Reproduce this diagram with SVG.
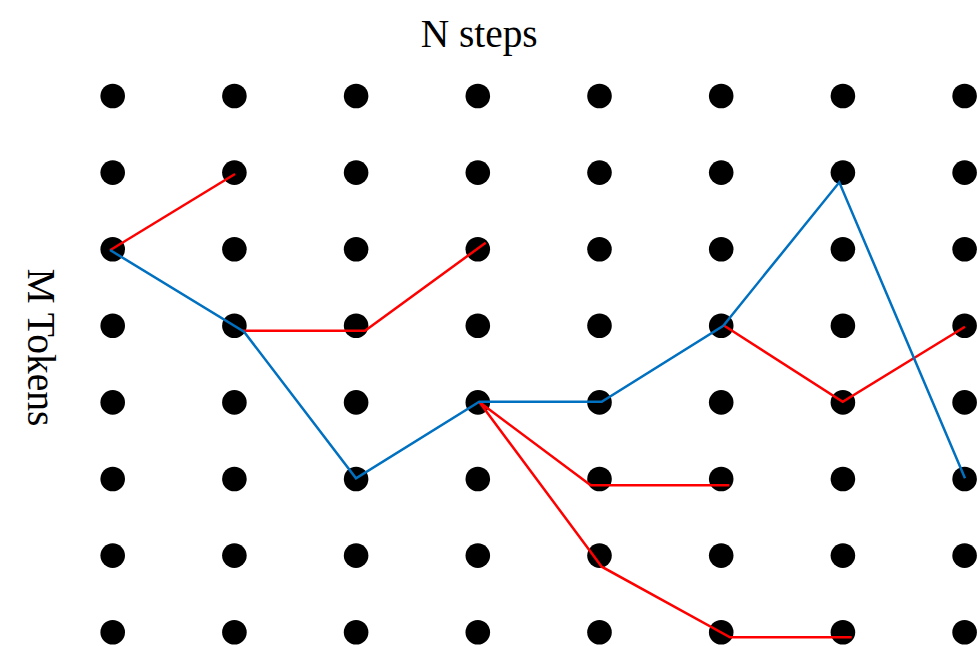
<svg xmlns="http://www.w3.org/2000/svg" width="978" height="646" viewBox="0 0 978 646">
<style>
.dot{fill:#000}
.lbl{font-family:"Liberation Serif","Times New Roman",serif;fill:#000}
.red{fill:none;stroke:#ff0000;stroke-width:2.5;stroke-linejoin:miter}
.blue{fill:none;stroke:#0070c0;stroke-width:2.5;stroke-linejoin:miter}
</style>
<rect width="978" height="646" fill="#fff"/>
<defs><circle id="d" r="12.3" class="dot"/></defs>
<g id="grid">
<g id="row1"><use href="#d" x="112.7" y="96"/><use href="#d" x="234.4" y="96"/><use href="#d" x="356.1" y="96"/><use href="#d" x="477.8" y="96"/><use href="#d" x="599.5" y="96"/><use href="#d" x="721.2" y="96"/><use href="#d" x="842.9" y="96"/><use href="#d" x="964.6" y="96"/></g>
<g id="row2"><use href="#d" x="112.7" y="172.6"/><use href="#d" x="234.4" y="172.6"/><use href="#d" x="356.1" y="172.6"/><use href="#d" x="477.8" y="172.6"/><use href="#d" x="599.5" y="172.6"/><use href="#d" x="721.2" y="172.6"/><use href="#d" x="842.9" y="172.6"/><use href="#d" x="964.6" y="172.6"/></g>
<g id="row3"><use href="#d" x="112.7" y="249.2"/><use href="#d" x="234.4" y="249.2"/><use href="#d" x="356.1" y="249.2"/><use href="#d" x="477.8" y="249.2"/><use href="#d" x="599.5" y="249.2"/><use href="#d" x="721.2" y="249.2"/><use href="#d" x="842.9" y="249.2"/><use href="#d" x="964.6" y="249.2"/></g>
<g id="row4"><use href="#d" x="112.7" y="325.8"/><use href="#d" x="234.4" y="325.8"/><use href="#d" x="356.1" y="325.8"/><use href="#d" x="477.8" y="325.8"/><use href="#d" x="599.5" y="325.8"/><use href="#d" x="721.2" y="325.8"/><use href="#d" x="842.9" y="325.8"/><use href="#d" x="964.6" y="325.8"/></g>
<g id="row5"><use href="#d" x="112.7" y="402.4"/><use href="#d" x="234.4" y="402.4"/><use href="#d" x="356.1" y="402.4"/><use href="#d" x="477.8" y="402.4"/><use href="#d" x="599.5" y="402.4"/><use href="#d" x="721.2" y="402.4"/><use href="#d" x="842.9" y="402.4"/><use href="#d" x="964.6" y="402.4"/></g>
<g id="row6"><use href="#d" x="112.7" y="479"/><use href="#d" x="234.4" y="479"/><use href="#d" x="356.1" y="479"/><use href="#d" x="477.8" y="479"/><use href="#d" x="599.5" y="479"/><use href="#d" x="721.2" y="479"/><use href="#d" x="842.9" y="479"/><use href="#d" x="964.6" y="479"/></g>
<g id="row7"><use href="#d" x="112.7" y="555.6"/><use href="#d" x="234.4" y="555.6"/><use href="#d" x="356.1" y="555.6"/><use href="#d" x="477.8" y="555.6"/><use href="#d" x="599.5" y="555.6"/><use href="#d" x="721.2" y="555.6"/><use href="#d" x="842.9" y="555.6"/><use href="#d" x="964.6" y="555.6"/></g>
<g id="row8"><use href="#d" x="112.7" y="632.2"/><use href="#d" x="234.4" y="632.2"/><use href="#d" x="356.1" y="632.2"/><use href="#d" x="477.8" y="632.2"/><use href="#d" x="599.5" y="632.2"/><use href="#d" x="721.2" y="632.2"/><use href="#d" x="842.9" y="632.2"/><use href="#d" x="964.6" y="632.2"/></g>
</g>
<g id="connectors">
<polyline class="red" points="110,250.3 235,174"/>
<polyline class="red" points="242.3,330.7 365,330.7 485.7,242.7"/>
<polyline class="red" points="479.3,402 590.7,485.3 729.3,485.3"/>
<polyline class="red" points="479.3,402 601.7,566.7 730,637.3 851.7,637.3"/>
<polyline class="red" points="724.3,325.7 842.7,401.7 965,326.7"/>
<polyline class="blue" points="110,250 244,331.7 356,478.3 479.3,401.7 601.7,401.7 723.3,325.7 839.3,182.3 965,478.3"/>
</g>
<text id="title" class="lbl" x="479.2" y="46.5" font-size="40" text-anchor="middle" textLength="117" lengthAdjust="spacingAndGlyphs">N steps</text>
<text id="ylabel" class="lbl" font-size="40" text-anchor="middle" textLength="158" lengthAdjust="spacingAndGlyphs" transform="translate(27.7,347.5) rotate(90)">M Tokens</text>
</svg>
